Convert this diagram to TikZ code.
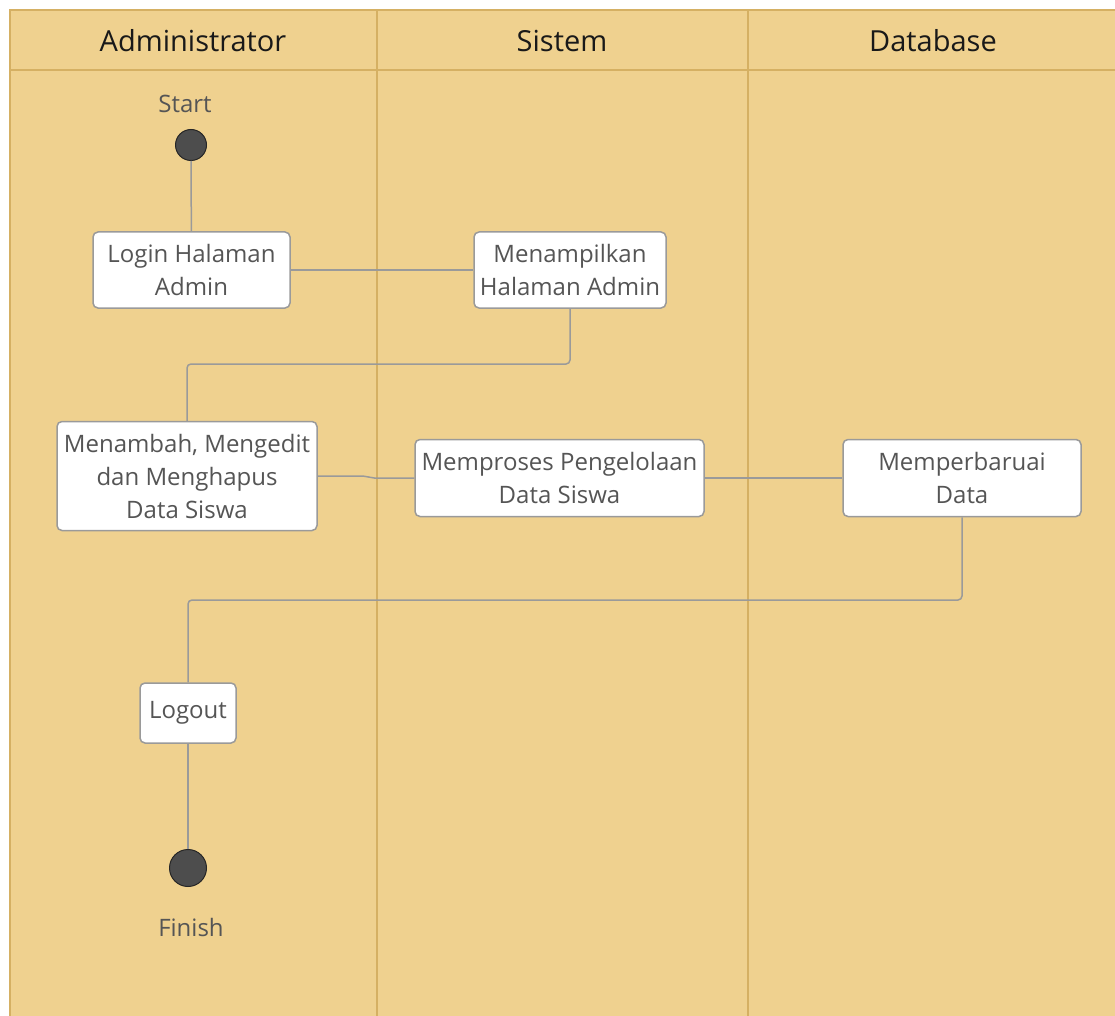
\documentclass[tikz,border=0pt]{standalone}
\usepackage{fontspec}
\setmainfont{Open Sans}
\usetikzlibrary{calc}
\definecolor{lanefill}{HTML}{EFD18F}
\definecolor{laneline}{HTML}{D5B063}
\definecolor{boxline}{HTML}{9A9A9A}
\definecolor{bodytext}{HTML}{555555}
\definecolor{dotfill}{HTML}{4D4D4D}
\tikzset{
  lane/.style={draw=laneline, line width=2pt},
  act/.style={draw=boxline, fill=white, line width=1.5pt, rounded corners=5pt,
    inner sep=0pt, align=center, text=bodytext,
    font=\fontsize{24}{33}\selectfont},
  header/.style={font=\fontsize{29}{32}\selectfont, text=black!90},
  dot/.style={circle, draw=black!85, fill=dotfill, line width=1pt, inner sep=0pt},
  caption/.style={text=bodytext, font=\fontsize{24}{28}\selectfont},
  flow/.style={draw=boxline, line width=1.5pt, rounded corners=4pt},
}
\begin{document}
\begin{tikzpicture}[x=1pt, y=-1pt]
\useasboundingbox (0,0) rectangle (1115,1016);
\fill[white] (0,0) rectangle (1115,1016);
\begin{scope}
\clip (0,0) rectangle (1115,1016);
% swimlane frame
\fill[lanefill] (10,10) rectangle (1130,1030);
\draw[lane] (1130,10) -- (10,10) -- (10,1030);
\draw[lane] (10,70) -- (1130,70);
\draw[lane] (377,10) -- (377,1030);
\draw[lane] (748,10) -- (748,1030);
\end{scope}
% lane headers
\node[header] (hadmin) at (193,41) {Administrator};
\node[header] (hsys) at (562,41) {Sistem};
\node[header] (hdb) at (933,41) {Database};

% activities
\node[dot, minimum size=31pt] (start) at (191,145) {};
\node[caption] (startlbl) at (185,104) {Start};
\node[act, minimum width=197pt, minimum height=76pt] (login) at (191.5,270) {Login Halaman\\Admin};
\node[act, minimum width=192pt, minimum height=76pt] (tampil) at (570,270) {Menampilkan\\Halaman Admin};
\node[act, minimum width=260pt, minimum height=109pt] (kelola) at (187,476) {Menambah, Mengedit\\dan Menghapus\\Data Siswa};
\node[act, minimum width=289pt, minimum height=77pt] (proses) at (559.5,478) {Memproses Pengelolaan\\Data Siswa};
\node[act, minimum width=238pt, minimum height=77pt] (update) at (962,478) {Memperbaruai\\Data};
\node[act, minimum width=96pt, minimum height=60pt] (logout) at (188,713) {Logout};
\node[dot, minimum size=37pt] (finish) at (188,868) {};
\node[caption] (finishlbl) at (191,927) {Finish};

% control flow
\draw[flow] (start) -- (login);
\draw[flow] (login.east) -- (tampil.west);
\draw[flow] (tampil.south) -- (570,364) -- (187,364) -- (kelola.north);
\draw[flow, rounded corners=0pt] (kelola.east) -- ($(kelola.east)+(45,0)$) -- ($(proses.west)+(-40,0)$) -- (proses.west);
\draw[flow] (proses.east) -- (update.west);
\draw[flow] (update.south) -- (962,600) -- (188,600) -- (logout.north);
\draw[flow] (logout) -- (finish);
\end{tikzpicture}
\end{document}
